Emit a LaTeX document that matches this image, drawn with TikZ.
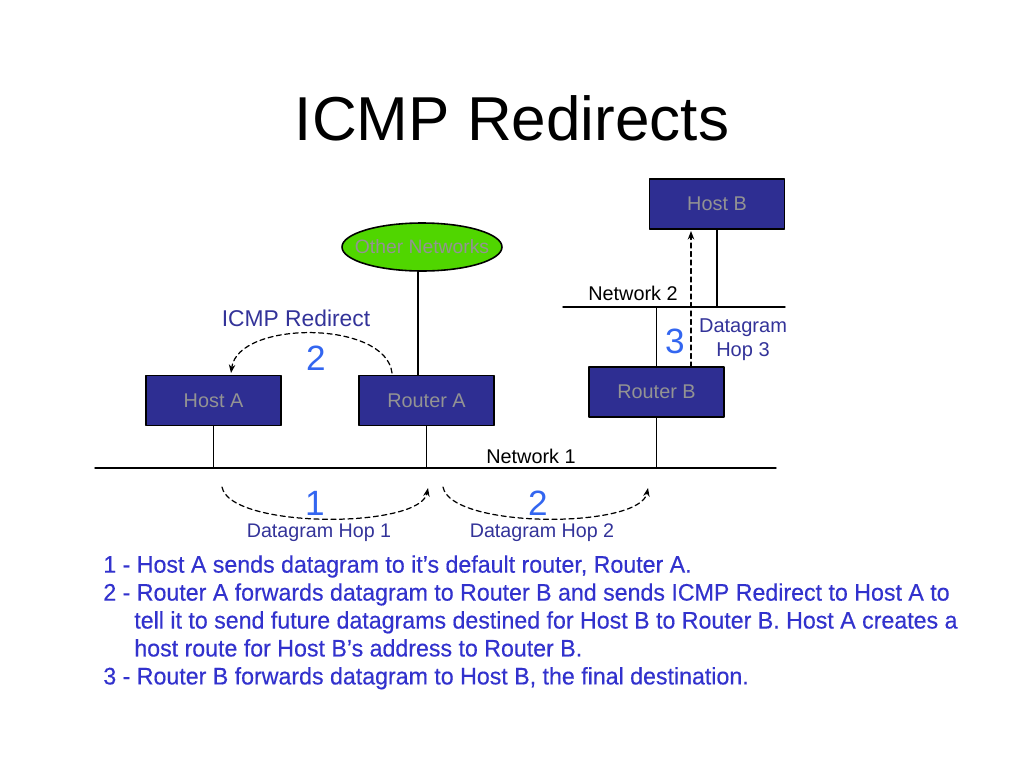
\documentclass[tikz,border=0pt]{standalone}
\usepackage{fontspec}
\setmainfont{Liberation Sans}
\newfontfamily\notefont[FakeStretch=0.97,FakeBold=0.4]{Liberation Sans}
\usetikzlibrary{shapes.geometric,arrows.meta}
\definecolor{boxblue}{RGB}{46,46,146}
\definecolor{labelblue}{RGB}{51,51,153}
\definecolor{numblue}{RGB}{51,102,240}
\definecolor{netgreen}{RGB}{80,214,0}
\definecolor{noteblue}{RGB}{50,50,205}
\tikzset{
  hostbox/.style={draw=black, line width=0.9pt, fill=boxblue, text=gray!85,
    minimum width=2.7cm, minimum height=1cm, inner sep=0pt, font=\fontsize{11.3}{13}\selectfont},
  wire/.style={line width=0.8pt},
  hop/.style={line width=0.7pt, dash pattern=on 1mm off 0.7mm, -{Stealth[length=1.7mm,width=1.3mm]}},
  lbl/.style={text=labelblue, font=\fontsize{11.2}{13.5}\selectfont, align=center},
  num/.style={text=numblue, font=\fontsize{20}{22}\selectfont},
}
\begin{document}
\begin{tikzpicture}[x=0.02cm, y=-0.02cm, line join=round, line cap=round]
				\useasboundingbox (0,0) rectangle (1024,768);
				% title
				\node (title) at (512,118) {\fontsize{35.3}{42}\selectfont ICMP Redirects};
				% hosts and routers
				\node[hostbox] (ha) at (213.5,400.5) {Host A};
				\node[hostbox] (ra) at (426.5,400.5) {Router A};
				\node[hostbox] (rb) at (656.5,392) {Router B};
				\node[hostbox] (hb) at (717,204) {Host B};
				\node[ellipse, draw=black, line width=0.9pt, fill=netgreen, text=gray!85,
				  minimum width=3.2cm, minimum height=0.96cm, inner sep=0pt,
				  font=\fontsize{11}{12}\selectfont] (on) at (422,247) {\makebox[0pt]{Other Networks}};
				% networks
				\coordinate (n1w) at (95,468);
				\coordinate (n1e) at (776,468);
				\coordinate (n2w) at (563,307);
				\coordinate (n2e) at (785,307);
				\draw[wire] (n1w) -- (n1e);
				\draw[wire] (n2w) -- (n2e);
				\node (net1) at (531,456) {\fontsize{11.3}{13}\selectfont Network 1};
				\node (net2) at (633,293) {\fontsize{11.3}{13}\selectfont Network 2};
				\draw[wire] (ha.south) -- (ha.south |- n1w);
				\draw[wire] (ra.south) -- (ra.south |- n1w);
				\draw[wire] (rb.south) -- (rb.south |- n1w);
				\draw[wire] (rb.north) -- (rb.north |- n2w);
				\draw[wire] (hb.south) -- (hb.south |- n2w);
				\draw[wire] ([xshift=-0.08cm]on.south) -- ([xshift=-0.08cm]on.south |- ra.north);
				% redirect
				\coordinate (r0) at (392,373);
				\coordinate (r1) at (231,373);
				\draw[hop] (r0) .. controls (386,320) and (238,320) .. (r1);
				\node[lbl, font=\fontsize{13}{15}\selectfont] (redir) at (296,318) {ICMP Redirect};
				\node[num] (n2a) at (316,358) {2};
				% datagram hops
				\coordinate (h1a) at (222,487);
				\coordinate (h1b) at (428,488);
				\coordinate (h2a) at (443,487);
				\coordinate (h2b) at (648,488);
				\draw[hop] (h1a) .. controls (230,529) and (420,529) .. (h1b);
				\draw[hop] (h2a) .. controls (451,529) and (640,529) .. (h2b);
				\node[num] (n1) at (315,503) {1};
				\node[num] (n2b) at (538,503) {2};
				\node[lbl] (dh1) at (319,533) {Datagram Hop 1};
				\node[lbl] (dh2) at (542,533) {Datagram Hop 2};
				\coordinate (h3a) at (691,367);
				\coordinate (h3b) at (691,231);
				\draw[hop] (h3a) -- (h3b);
				\node[num] (n3) at (675,341) {3};
				\node[lbl, font=\fontsize{11.4}{13.5}\selectfont] (dh3) at (743,340) {Datagram\\Hop 3};
				% notes
				\node[anchor=north west, inner sep=0pt, text=noteblue, align=left,
				  font=\notefont\fontsize{13.6}{15.9}\selectfont] (notes) at (103,555)
				  {1 - Host A sends datagram to it’s default router, Router A.\\
				   2 - Router A forwards datagram to Router B and sends ICMP Redirect to Host A to\\
				   \hspace*{0.62cm}tell it to send future datagrams destined for Host B to Router B. Host A creates a\\
				   \hspace*{0.62cm}host route for Host B’s address to Router B.\\
				   3 - Router B forwards datagram to Host B, the final destination.};
		\end{tikzpicture}
\end{document}
